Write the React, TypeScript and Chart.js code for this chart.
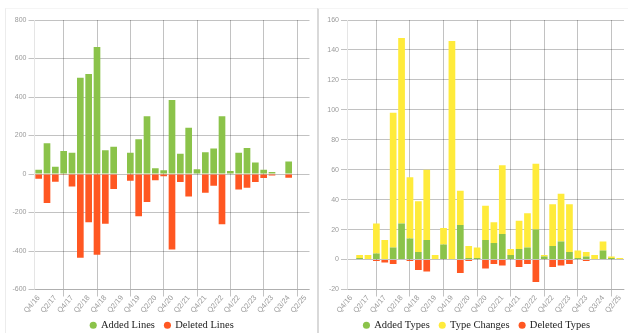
import React, { useEffect, useRef } from 'react';
import { Chart, registerables } from 'chart.js';

Chart.register(...registerables);

const categories = [
  'Q4/16', 'Q1/17', 'Q2/17', 'Q3/17', 'Q4/17', 'Q1/18', 'Q2/18', 'Q3/18', 'Q4/18',
  'Q1/19', 'Q2/19', 'Q3/19', 'Q4/19', 'Q1/20', 'Q2/20', 'Q3/20', 'Q4/20', 'Q1/21',
  'Q2/21', 'Q3/21', 'Q4/21', 'Q1/22', 'Q2/22', 'Q3/22', 'Q4/22', 'Q1/23', 'Q2/23',
  'Q3/23', 'Q4/23', 'Q1/24', 'Q3/24', 'Q4/24', 'Q2/25',
];

const addedLines = [22, 160, 38, 120, 110, 500, 520, 660, 123, 142, 0, 110, 180, 300, 30, 20, 385, 105, 240, 25, 113, 132, 300, 15, 111, 135, 60, 22, 10, 0, 65, 3, 0];
const deletedLines = [-25, -150, -40, -4, -65, -435, -250, -420, -258, -78, 0, -35, -220, -145, -32, -12, -392, -42, -117, 0, -97, -61, -261, 0, -81, -71, -42, -21, -8, 0, -20, 0, 0];

const addedTypes = [0, 1, 0, 4, 0, 8, 24, 14, 5, 13, 0, 10, 0, 23, 1, 1, 13, 11, 17, 3, 7, 8, 20, 2, 9, 12, 5, 1, 2, 0, 6, 1, 0];
const typeChanges = [0, 2, 3, 20, 13, 90, 124, 41, 34, 47, 3, 11, 146, 23, 8, 7, 23, 14, 46, 4, 19, 23, 44, 1, 28, 32, 32, 5, 3, 3, 6, 1, 1];
const deletedTypes = [0, 0, 0, -1, -2, -3, 0, -1, -7, -8, 0, 0, 0, -9, -1, 0, -6, -3, -4, 0, -5, -3, -15, 0, -5, -4, -3, 0, -1, 0, 0, 0, 0];

const leftTicks = { min: -600, max: 800, step: 200 };
const rightTicks = { min: -20, max: 160, step: 20 };

const GREEN = '#8BC34A';
const RED = '#FF5722';
const YELLOW = '#FFEB3B';
const GRID = 'rgba(0,0,0,0.24)';
const TICK = '#9a9a9a';

function legendShift(dx: number, dy: number) {
  return {
    id: 'legendShift',
    afterLayout(chart: any) {
      const lg = chart.legend;
      if (!lg) return;
      lg.left += dx; lg.right += dx; lg.top += dy; lg.bottom += dy;
    },
  };
}

function makeOptions(t: { min: number; max: number; step: number }, yWidth: number, padRight: number): any {
  return {
    animation: false,
    responsive: false,
    maintainAspectRatio: false,
    layout: { padding: { top: 11, right: padRight, left: 0, bottom: 0 } },
    plugins: {
      legend: {
        position: 'bottom',
        labels: {
          usePointStyle: true,
          pointStyle: 'circle',
          boxWidth: 5,
          boxHeight: 5,
          padding: 10,
          color: '#222',
          font: { family: "'Liberation Serif', 'Times New Roman', serif", size: 10.5 },
        },
      },
      tooltip: { enabled: false },
    },
    scales: {
      x: {
        stacked: true,
        grid: { color: GRID, tickLength: 7 },
        ticks: {
          color: TICK,
          font: { size: 7.5 },
          minRotation: 50,
          maxRotation: 50,
          autoSkip: true,
          maxTicksLimit: 17,
          padding: -3,
        },
        afterFit: (s: any) => { s.height = 30; },
      },
      y: {
        stacked: true,
        min: t.min,
        max: t.max,
        grid: { color: GRID, tickLength: 6 },
        ticks: { stepSize: t.step, color: TICK, font: { size: 7 }, padding: 2 },
        afterFit: (s: any) => { s.width = yWidth; },
      },
    },
  };
}

function ChartCanvas({ config, width, height }: { config: any; width: number; height: number }) {
  const ref = useRef<HTMLCanvasElement | null>(null);
  useEffect(() => {
    if (!ref.current) return;
    const chart = new Chart(ref.current, config);
    return () => chart.destroy();
  }, []);
  return <canvas ref={ref} width={width} height={height} style={{ width, height, display: 'block' }} />;
}

export default function App() {
  const barOpts = { barPercentage: 1.0, categoryPercentage: 0.8 };
  const H = 341;
  const leftConfig = {
    type: 'bar',
    data: {
      labels: categories,
      datasets: [
        { label: 'Added Lines', data: addedLines, backgroundColor: GREEN, ...barOpts },
        { label: 'Deleted Lines', data: deletedLines, backgroundColor: RED, ...barOpts },
      ],
    },
    options: makeOptions(leftTicks, 28.5, 6.5),
    plugins: [legendShift(4.5, -9.5)],
  };
  const rightConfig = {
    type: 'bar',
    data: {
      labels: categories,
      datasets: [
        { label: 'Added Types', data: addedTypes, backgroundColor: GREEN, ...barOpts },
        { label: 'Type Changes', data: typeChanges, backgroundColor: YELLOW, ...barOpts },
        { label: 'Deleted Types', data: deletedTypes, backgroundColor: RED, ...barOpts },
      ],
    },
    options: makeOptions(rightTicks, 28, 4),
    plugins: [legendShift(5.5, -9.5)],
  };
  return (
    <div style={{ position: 'fixed', left: 0, top: 0, width: 628, height: 333, overflow: 'hidden', background: '#fff' }}>
      <div style={{ position: 'absolute', left: 5, top: 8, width: 311, height: 345, borderLeft: '1px solid #ececec', borderTop: '1px solid #f5f5f5' }}>
        <ChartCanvas config={leftConfig} width={310} height={H} />
      </div>
      <div style={{ position: 'absolute', left: 317, top: 8, width: 320, height: 345, borderLeft: '2px solid #d9d9d9', borderTop: '1px solid #f5f5f5' }}>
        <ChartCanvas config={rightConfig} width={309} height={H} />
      </div>
    </div>
  );
}
